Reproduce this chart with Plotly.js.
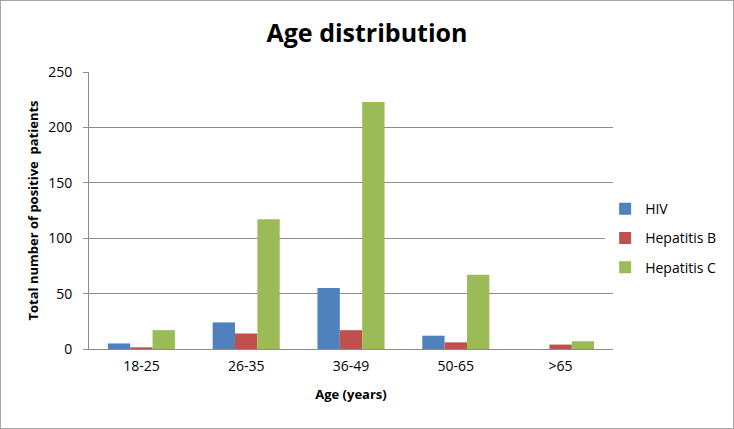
<!DOCTYPE html>
<html>
<head>
<meta charset="utf-8">
<script src="https://cdn.plot.ly/plotly-3.0.1.min.js"></script>
<style>
  body { margin: 0; background: #fff; }
  #chart { width: 732px; height: 427px; border: 1px solid #a6a6a6; }
</style>
</head>
<body>
<div id="chart"></div>
<script>
// values
var ageGroups = ['18-25', '26-35', '36-49', '50-65', '>65'];
var hiv = [5, 24, 55, 12, 0];
var hepB = [1.5, 14, 17, 6, 4];
var hepC = [17, 117, 223, 67, 7];

var seriesNames = ['HIV', 'Hepatitis B', 'Hepatitis C'];
var seriesColors = ['#4F81BD', '#C0504D', '#9BBB59'];
var yTicks = [0, 50, 100, 150, 200, 250];

var fontFam = 'Open Sans, sans-serif';

var data = [hiv, hepB, hepC].map(function (vals, i) {
    return {
        x: ageGroups,
        y: vals,
        type: 'bar',
        name: seriesNames[i],
        legendgroup: 'g' + i,
        marker: { color: seriesColors[i] },
        hoverinfo: 'x+y+name'
    };
});

var layout = {
    width: 732,
    height: 427,
    margin: { l: 88, r: 103, t: 71, b: 79 },
    paper_bgcolor: '#fff',
    plot_bgcolor: '#fff',
    font: { family: fontFam, size: 14, color: '#000' },
    title: {
        text: '<b>Age distribution</b>',
        font: { size: 25, family: fontFam, color: '#000' },
        x: 0.5, xanchor: 'center',
        y: 0.925, yanchor: 'middle'
    },
    barmode: 'group',
    bargap: 0.36,
    bargroupgap: 0,
    xaxis: {
        title: { text: '<b>Age (years)</b>', font: { size: 13 }, standoff: 16 },
        showline: true, linecolor: '#8c8c8c', linewidth: 1,
        ticks: '', showgrid: false,
        ticklabelstandoff: 4,
        tickfont: { size: 14 }
    },
    yaxis: {
        title: { text: '<b>Total number of positive  patients</b>', font: { size: 13 }, standoff: 6 },
        range: [0, 250],
        tickvals: yTicks,
        showline: true, linecolor: '#8c8c8c', linewidth: 1,
        ticks: 'outside', ticklen: 5, tickcolor: '#8c8c8c',
        ticklabelstandoff: 8,
        gridcolor: '#8c8c8c', gridwidth: 1,
        zeroline: false,
        tickfont: { size: 14 }
    },
    legend: {
        x: 0.985, xanchor: 'left',
        y: 0.4, yanchor: 'middle',
        font: { size: 14 },
        tracegroupgap: 8,
        itemwidth: 30
    },
    showlegend: true
};

Plotly.newPlot('chart', data, layout, { displayModeBar: false, staticPlot: true });
</script>
</body>
</html>
